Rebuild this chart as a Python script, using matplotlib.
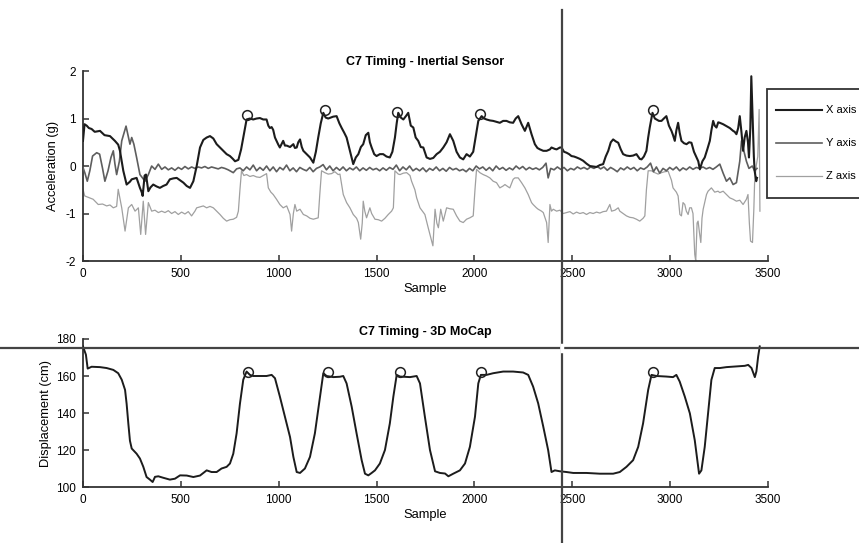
import matplotlib
matplotlib.use("Agg")
import matplotlib.pyplot as plt
from matplotlib.lines import Line2D
from matplotlib.patches import Rectangle

plt.rcParams['font.family'] = ['Liberation Sans', 'DejaVu Sans']
plt.rcParams['axes.unicode_minus'] = False

# ---- inertial sensor (g) ----
x_samples = [0, 8, 19, 30, 44, 60, 87, 110, 138, 163, 180, 189, 206, 223, 240, 249, 274, 291, 300, 305,
             315, 322, 334, 345, 359, 376, 393, 410, 427, 444, 462, 479, 496, 513, 530, 547, 564, 581, 598, 615,
             632, 649, 666, 683, 700, 717, 734, 751, 766, 777, 794, 808, 819, 836, 853, 870, 887, 904, 921, 938,
             947, 955, 964, 972, 981, 989, 998, 1006, 1023, 1032, 1041, 1058, 1075, 1083, 1092, 1100, 1109, 1118, 1126, 1143,
             1160, 1177, 1190, 1202, 1215, 1228, 1240, 1253, 1266, 1279, 1296, 1310, 1322, 1335, 1347, 1356, 1364, 1381, 1394, 1407,
             1420, 1432, 1445, 1458, 1466, 1475, 1488, 1500, 1517, 1534, 1551, 1568, 1581, 1594, 1603, 1611, 1624, 1637, 1650, 1662,
             1675, 1688, 1700, 1713, 1726, 1739, 1756, 1773, 1790, 1807, 1824, 1841, 1858, 1875, 1892, 1909, 1926, 1943, 1960, 1977,
             1994, 2003, 2020, 2037, 2050, 2062, 2079, 2096, 2113, 2130, 2147, 2164, 2181, 2198, 2211, 2224, 2241, 2258, 2275, 2292,
             2309, 2322, 2335, 2352, 2369, 2386, 2394, 2411, 2420, 2437, 2445, 2458, 2471, 2484, 2496, 2509, 2522, 2539, 2556, 2573,
             2590, 2607, 2624, 2641, 2658, 2671, 2684, 2697, 2709, 2722, 2735, 2748, 2760, 2777, 2794, 2811, 2828, 2845, 2854, 2866,
             2879, 2888, 2896, 2910, 2922, 2930, 2943, 2956, 2968, 2981, 2994, 3007, 3015, 3024, 3032, 3041, 3049, 3058, 3071, 3084,
             3097, 3109, 3122, 3135, 3144, 3152, 3165, 3177, 3190, 3203, 3211, 3220, 3228, 3237, 3246, 3254, 3271, 3288, 3305, 3322,
             3330, 3339, 3348, 3356, 3365, 3373, 3381, 3390, 3398, 3403, 3410, 3415, 3422, 3428, 3432, 3440, 3444]
x_axis = [0.53, 0.88, 0.85, 0.8, 0.78, 0.72, 0.74, 0.65, 0.63, 0.53, 0.45, 0.32, -0.1, -0.39, -0.33, -0.28, -0.25, -0.46, -0.55, -0.63,
          -0.2, -0.18, -0.53, -0.45, -0.39, -0.43, -0.46, -0.42, -0.39, -0.28, -0.26, -0.25, -0.3, -0.35, -0.42, -0.46, -0.32, 0.0, 0.39, 0.55,
          0.6, 0.63, 0.58, 0.46, 0.39, 0.32, 0.25, 0.21, 0.15, 0.1, 0.13, 0.35, 0.6, 0.98, 1.0, 0.98, 1.0, 1.01, 0.98, 0.98,
          0.85, 0.8, 0.82, 0.76, 0.6, 0.53, 0.45, 0.39, 0.53, 0.43, 0.43, 0.4, 0.46, 0.38, 0.39, 0.5, 0.56, 0.4, 0.32, 0.25,
          0.18, 0.07, 0.3, 0.6, 0.9, 1.12, 1.02, 1.0, 1.02, 1.04, 1.05, 0.9, 0.8, 0.7, 0.6, 0.45, 0.32, 0.04, 0.18, 0.25,
          0.4, 0.46, 0.65, 0.7, 0.5, 0.39, 0.25, 0.21, 0.25, 0.25, 0.2, 0.18, 0.3, 0.6, 0.9, 1.12, 1.02, 0.98, 1.05, 1.12,
          0.85, 0.81, 0.6, 0.53, 0.4, 0.39, 0.18, 0.15, 0.17, 0.25, 0.3, 0.39, 0.5, 0.67, 0.53, 0.3, 0.18, 0.14, 0.25, 0.2,
          0.3, 0.53, 0.95, 1.05, 1.0, 0.98, 0.96, 0.95, 0.93, 0.91, 0.95, 0.95, 0.92, 0.91, 1.0, 1.05, 0.88, 0.74, 0.91, 0.67,
          0.46, 0.38, 0.35, 0.32, 0.32, 0.35, 0.39, 0.36, 0.35, 0.39, 0.39, 0.3, 0.28, 0.25, 0.21, 0.2, 0.18, 0.15, 0.11, 0.05,
          0.0, -0.01, -0.02, 0.02, 0.04, 0.2, 0.32, 0.5, 0.56, 0.52, 0.49, 0.35, 0.25, 0.22, 0.21, 0.22, 0.25, 0.15, 0.14, 0.2,
          0.32, 0.6, 0.81, 1.12, 1.0, 0.98, 0.95, 0.95, 1.0, 1.05, 0.85, 0.74, 0.65, 0.53, 0.75, 0.91, 0.7, 0.53, 0.48, 0.46,
          0.5, 0.49, 0.3, 0.18, 0.1, -0.07, 0.1, 0.18, 0.35, 0.53, 0.75, 0.95, 0.85, 0.81, 0.92, 0.91, 0.88, 0.84, 0.8, 0.74,
          0.72, 0.67, 0.8, 1.05, 0.7, 0.32, 0.6, 0.74, 0.5, 0.18, 0.8, 1.89, 1.0, 0.2, -0.1, -0.32, -0.25]

y_samples = [0, 10, 22, 35, 49, 70, 85, 100, 112, 128, 143, 155, 163, 172, 186, 198, 220, 240, 249, 260,
             274, 291, 317, 334, 351, 368, 385, 402, 419, 436, 453, 470, 487, 504, 521, 538, 555, 572, 589, 606,
             623, 640, 657, 674, 691, 708, 725, 742, 759, 768, 785, 802, 819, 836, 853, 870, 887, 904, 921, 938,
             955, 972, 989, 1006, 1023, 1040, 1057, 1074, 1091, 1108, 1125, 1142, 1159, 1176, 1193, 1210, 1227, 1244, 1261, 1278,
             1295, 1312, 1329, 1346, 1363, 1380, 1397, 1414, 1431, 1448, 1465, 1482, 1499, 1516, 1533, 1550, 1567, 1584, 1601, 1618,
             1635, 1652, 1669, 1686, 1703, 1720, 1737, 1754, 1771, 1788, 1805, 1822, 1839, 1856, 1873, 1890, 1907, 1924, 1941, 1958,
             1975, 1992, 2009, 2026, 2043, 2060, 2077, 2094, 2111, 2128, 2145, 2162, 2179, 2196, 2213, 2230, 2247, 2264, 2281, 2298,
             2315, 2332, 2349, 2366, 2377, 2390, 2407, 2424, 2441, 2458, 2475, 2492, 2509, 2526, 2543, 2560, 2577, 2594, 2611, 2628,
             2645, 2662, 2679, 2696, 2713, 2730, 2747, 2764, 2781, 2798, 2815, 2832, 2849, 2866, 2883, 2900, 2915, 2930, 2947, 2964,
             2981, 2998, 3015, 3032, 3049, 3066, 3083, 3100, 3117, 3134, 3151, 3168, 3185, 3202, 3219, 3236, 3254, 3271, 3288, 3305,
             3322, 3339, 3356, 3365, 3378, 3390, 3403, 3420, 3432, 3444]
y_axis = [-0.03, -0.15, -0.32, -0.1, 0.21, 0.28, 0.25, -0.05, -0.32, -0.1, 0.18, 0.32, 0.05, -0.18, 0.1, 0.53, 0.84, 0.46, 0.6, 0.46,
          0.18, -0.18, -0.32, -0.18, 0.0, -0.07, 0.04, -0.07, -0.02, -0.08, -0.04, -0.09, -0.03, -0.07, -0.01, -0.06, -0.02, -0.05, -0.02, -0.04,
          -0.01, -0.05, -0.02, -0.04, -0.06, -0.03, -0.05, -0.08, -0.12, -0.14, -0.06, -0.04, -0.1, -0.02, -0.08, 0.02, -0.1, -0.03, -0.09, 0.0,
          -0.1, -0.02, -0.12, -0.03, -0.08, 0.02, -0.1, -0.04, -0.12, -0.03, -0.07, -0.1, -0.03, -0.12, -0.05, -0.02, 0.03, -0.08, 0.0, -0.1,
          -0.03, -0.09, -0.02, -0.1, -0.04, -0.08, -0.02, -0.1, -0.04, -0.09, -0.03, -0.08, -0.05, -0.1, -0.04, -0.09, -0.03, -0.07, 0.02, -0.1,
          -0.02, -0.08, 0.0, -0.1, -0.05, -0.1, -0.04, -0.12, -0.05, -0.09, -0.02, -0.1, -0.05, -0.11, -0.03, -0.08, -0.05, -0.1, -0.07, -0.12,
          -0.05, -0.1, 0.0, -0.06, -0.02, -0.09, -0.03, -0.1, 0.0, -0.07, -0.03, -0.09, -0.04, -0.08, 0.0, -0.06, -0.01, -0.08, -0.03, -0.07,
          -0.04, -0.08, -0.03, 0.06, -0.25, -0.05, -0.08, -0.02, -0.07, -0.03, -0.1, -0.05, -0.08, -0.02, -0.06, -0.03, -0.07, -0.02, -0.05, -0.01,
          -0.06, -0.02, -0.09, -0.03, -0.07, -0.12, -0.04, -0.08, -0.02, -0.07, -0.03, -0.1, -0.04, -0.07, -0.02, 0.06, -0.12, -0.02, -0.15, -0.05,
          -0.1, -0.03, -0.08, -0.02, -0.1, -0.04, -0.08, -0.02, -0.07, -0.03, -0.05, -0.02, -0.06, -0.03, -0.07, -0.02, 0.04, -0.15, -0.32, -0.25,
          -0.39, -0.35, 0.1, 0.53, 0.3, 0.1, -0.05, 0.0, -0.1, -0.05]

z_samples = [0, 9, 27, 52, 78, 100, 121, 138, 155, 172, 180, 198, 215, 232, 249, 266, 283, 295, 308, 320,
             334, 351, 368, 385, 402, 419, 436, 453, 470, 487, 504, 521, 538, 555, 572, 581, 598, 615, 632, 649,
             666, 683, 700, 717, 734, 751, 768, 785, 794, 802, 810, 822, 836, 853, 870, 887, 904, 921, 938, 947,
             960, 972, 989, 1006, 1023, 1041, 1058, 1066, 1075, 1083, 1092, 1109, 1126, 1143, 1160, 1177, 1194, 1202, 1210, 1219,
             1236, 1253, 1270, 1287, 1304, 1313, 1322, 1330, 1347, 1364, 1381, 1398, 1407, 1419, 1427, 1432, 1440, 1449, 1466, 1475,
             1492, 1509, 1526, 1543, 1560, 1577, 1586, 1594, 1611, 1620, 1637, 1654, 1671, 1679, 1696, 1705, 1722, 1747, 1764, 1788,
             1799, 1808, 1816, 1828, 1841, 1858, 1875, 1892, 1909, 1926, 1943, 1960, 1977, 1994, 2003, 2011, 2028, 2045, 2062, 2079,
             2096, 2113, 2130, 2147, 2156, 2173, 2181, 2198, 2207, 2224, 2241, 2258, 2275, 2292, 2300, 2317, 2326, 2343, 2352, 2369,
             2377, 2386, 2394, 2403, 2420, 2437, 2454, 2471, 2488, 2505, 2522, 2539, 2556, 2573, 2590, 2607, 2624, 2641, 2658, 2675,
             2692, 2701, 2718, 2735, 2743, 2760, 2777, 2794, 2811, 2828, 2845, 2862, 2871, 2879, 2888, 2905, 2922, 2939, 2956, 2973,
             2990, 3007, 3015, 3032, 3041, 3050, 3058, 3066, 3075, 3083, 3092, 3100, 3109, 3117, 3126, 3131, 3138, 3143, 3150, 3157,
             3163, 3169, 3186, 3194, 3211, 3228, 3245, 3254, 3271, 3288, 3305, 3322, 3339, 3356, 3373, 3390, 3398, 3405, 3411, 3421,
             3428, 3432, 3440, 3448, 3455, 3459]
z_axis = [-0.49, -0.63, -0.66, -0.7, -0.81, -0.8, -0.84, -0.82, -0.88, -0.85, -0.49, -0.88, -1.37, -0.88, -0.81, -0.95, -0.88, -1.44, -0.74, -1.44,
          -0.77, -0.95, -0.93, -0.98, -0.95, -0.98, -0.94, -1.0, -0.96, -1.02, -0.97, -1.01, -0.96, -1.05, -0.95, -0.88, -0.86, -0.84, -0.88, -0.85,
          -0.88, -0.95, -1.02, -1.1, -1.16, -1.13, -1.12, -1.08, -0.95, -0.5, -0.1, -0.2, -0.18, -0.22, -0.2, -0.23, -0.24, -0.2, -0.16, -0.46,
          -0.55, -0.6, -0.7, -0.81, -0.88, -0.84, -1.02, -1.37, -1.0, -0.81, -0.95, -0.91, -1.02, -1.05, -1.1, -1.12, -1.1, -1.09, -0.6, -0.1,
          -0.14, -0.17, -0.16, -0.12, -0.18, -0.17, -0.4, -0.6, -0.77, -0.88, -1.02, -1.1, -1.19, -1.54, -1.2, -0.74, -0.95, -1.09, -0.88, -1.0,
          -1.12, -1.13, -1.16, -1.1, -1.02, -0.95, -0.88, -0.1, -0.17, -0.18, -0.15, -0.14, -0.2, -0.32, -0.5, -0.67, -0.88, -1.02, -1.3, -1.68,
          -0.91, -1.2, -1.3, -0.91, -1.16, -0.88, -0.9, -0.91, -1.05, -1.16, -1.19, -1.12, -1.09, -1.05, -0.5, -0.07, -0.14, -0.18, -0.21, -0.25,
          -0.32, -0.35, -0.46, -0.42, -0.39, -0.44, -0.46, -0.28, -0.25, -0.25, -0.35, -0.46, -0.6, -0.77, -0.81, -0.88, -0.91, -0.95, -0.98, -1.19,
          -1.61, -0.81, -0.95, -0.91, -0.95, -0.93, -1.0, -0.98, -0.96, -1.01, -0.97, -1.0, -0.98, -1.02, -0.98, -1.0, -0.97, -0.99, -0.96, -0.95,
          -0.81, -0.95, -0.93, -0.88, -0.95, -1.0, -1.05, -1.08, -1.09, -1.12, -1.16, -1.1, -1.05, -0.5, -0.1, -0.1, -0.14, -0.17, -0.14, -0.12,
          -0.11, -0.3, -0.46, -0.55, -0.63, -1.02, -1.05, -0.77, -0.81, -0.95, -1.02, -0.88, -0.88, -1.0, -1.86, -2.0, -1.2, -1.16, -1.4, -1.61,
          -1.1, -0.91, -0.6, -0.53, -0.46, -0.55, -0.53, -0.56, -0.53, -0.6, -0.67, -0.7, -0.74, -0.72, -0.81, -0.7, -0.6, -1.2, -1.58, -1.61,
          -0.9, -0.32, 0.0, 0.2, 1.19, -0.95]

# ---- 3D MoCap displacement (cm) ----
mocap_samples = [0, 15, 24, 44, 87, 121, 155, 180, 198, 215, 223, 232, 240, 249, 274, 291, 308, 325, 342, 356,
                 368, 385, 410, 444, 470, 496, 530, 564, 598, 632, 657, 683, 708, 734, 751, 768, 785, 802, 819, 836,
                 853, 870, 938, 964, 981, 1006, 1032, 1058, 1075, 1092, 1109, 1134, 1160, 1185, 1211, 1228, 1245, 1279, 1313, 1330,
                 1347, 1373, 1398, 1424, 1441, 1458, 1475, 1492, 1517, 1543, 1568, 1586, 1603, 1620, 1671, 1705, 1722, 1747, 1773, 1799,
                 1824, 1850, 1867, 1892, 1926, 1952, 1977, 2003, 2020, 2033, 2062, 2096, 2147, 2198, 2249, 2275, 2300, 2326, 2352, 2377,
                 2394, 2411, 2437, 2471, 2505, 2573, 2641, 2709, 2743, 2777, 2811, 2837, 2862, 2888, 2905, 2930, 2981, 3015, 3032, 3049,
                 3075, 3101, 3126, 3148, 3160, 3177, 3194, 3211, 3228, 3254, 3288, 3339, 3382, 3399, 3416, 3433, 3441, 3450, 3458]
mocap_disp = [176, 171.5, 164, 165, 164.8, 164.3, 163.3, 161.5, 158, 152.5, 145, 134, 125, 120.8, 118, 115.4, 111, 105.4, 104, 102.7,
              105.5, 105.8, 105, 104, 104.5, 106.3, 106.2, 105.4, 106.2, 109, 108.1, 108.1, 110, 110.9, 112.7, 118, 129, 145, 158, 162.4,
              160.6, 160, 160, 160.6, 158.8, 148.9, 138, 127, 116.3, 108.1, 107.6, 110, 116.3, 129, 148.9, 161.5, 160, 159.4, 159.6, 160,
              156, 143.4, 129, 114.5, 107.2, 106.3, 107.6, 109, 112.7, 120, 134.4, 148.9, 160.6, 159.7, 159.4, 160, 156, 138, 120, 108.5,
              107.6, 107.3, 105.8, 107.2, 109, 112.7, 121.7, 138, 156, 160.6, 160.6, 161.5, 162.4, 162.4, 161.9, 160.6, 154.3, 145.2, 132.6, 119.9,
              108.1, 109, 108.5, 108.1, 107.6, 107.6, 107.2, 107.2, 108.1, 110.9, 114.5, 121.7, 134.4, 152.5, 160.6, 160, 159.7, 159.4, 160.6, 157,
              148.9, 139.8, 125.3, 107.2, 109, 121.7, 139.8, 157.9, 164.3, 164.3, 164.8, 165.2, 165.5, 166, 164.3, 159.4, 162.5, 170.6, 176]

# timing markers (circles)
peak_samples_acc = [836, 1236, 1606, 2028, 2914]
peak_acc = [1.07, 1.17, 1.14, 1.09, 1.17]
peak_samples_mocap = [845, 1250, 1620, 2033, 2913]
peak_mocap = [161.9, 161.9, 161.9, 162.3, 162.4]

series_names = ['X axis', 'Y axis', 'Z axis']
series_colors = ['#1c1c1c', '#5e5e5e', '#a0a0a0']
series_widths = [1.5, 1.2, 0.9]

W, H = 859, 543
fig = plt.figure(figsize=(W / 100, H / 100), dpi=100)
ax1 = fig.add_axes([0.0966, 0.5193, 0.7974, 0.3499])
ax2 = fig.add_axes([0.0966, 0.1031, 0.7974, 0.2726])

for ax in (ax1, ax2):
    ax.spines['top'].set_visible(False)
    ax.spines['right'].set_visible(False)
    for s in ('left', 'bottom'):
        ax.spines[s].set_linewidth(1.3)
        ax.spines[s].set_color('#333333')
    ax.tick_params(direction='in', length=4, width=1.1, color='#333333', labelsize=8.5, pad=5)
    ax.set_xlim(0, 3500)
    ax.set_xticks([0, 500, 1000, 1500, 2000, 2500, 3000, 3500])
    ax.set_xlabel('Sample', fontsize=9.3, labelpad=2)

# Z first so darker lines sit on top
ax1.plot(z_samples, z_axis, color=series_colors[2], lw=series_widths[2], zorder=2)
ax1.plot(y_samples, y_axis, color=series_colors[1], lw=series_widths[1], zorder=3)
ax1.plot(x_samples, x_axis, color=series_colors[0], lw=series_widths[0], zorder=4)
ax1.plot(peak_samples_acc, peak_acc, 'o', ms=7, mfc='none', mec='#222222', mew=1.1, zorder=5)
ax1.set_ylim(-2, 2)
ax1.set_yticks([-2, -1, 0, 1, 2])
ax1.set_ylabel('Acceleration (g)', fontsize=9.3, labelpad=5)
ax1.set_title('C7 Timing - Inertial Sensor', fontsize=9, fontweight='bold', pad=4)

# legend box sitting right of the top panel (runs off the figure edge, like the original)
fig.add_artist(Rectangle((767 / W, 1 - 198 / H), 140 / W, 109 / H, transform=fig.transFigure,
                         facecolor='white', edgecolor='#333333', lw=1.3, clip_on=False))
for i, (name, c, w) in enumerate(zip(series_names, series_colors, series_widths)):
    yy = 1 - (110 + 33 * i) / H
    fig.add_artist(Line2D([776 / W, 822 / W], [yy, yy], color=c, lw=w))
    fig.text(826 / W, yy, name, fontsize=8, va='center', ha='left')

ax2.plot(mocap_samples, mocap_disp, color='#1c1c1c', lw=1.4, zorder=3)
ax2.plot(peak_samples_mocap, peak_mocap, 'o', ms=7, mfc='none', mec='#222222', mew=1.1, zorder=4)
ax2.set_ylim(100, 180)
ax2.set_yticks([100, 120, 140, 160, 180])
ax2.set_ylabel('Displacement (cm)', fontsize=9.3, labelpad=3)
ax2.set_title('C7 Timing - 3D MoCap', fontsize=9, fontweight='bold', pad=3)

# crosshair lines drawn over the whole figure
vx = 562 / W
hy = 1 - 348 / H
gap = 3 / W
fig.add_artist(Line2D([vx, vx], [0, 1 - 10 / H], color='#444444', lw=1.6))
fig.add_artist(Line2D([0, vx - gap], [hy, hy], color='#444444', lw=1.6))
fig.add_artist(Line2D([vx + gap, 1], [hy, hy], color='#444444', lw=1.6))
fig.add_artist(Line2D([vx, vx], [hy - 3 / H, hy + 3 / H], color='white', lw=2.5))

fig.savefig('out.png', dpi=100)
